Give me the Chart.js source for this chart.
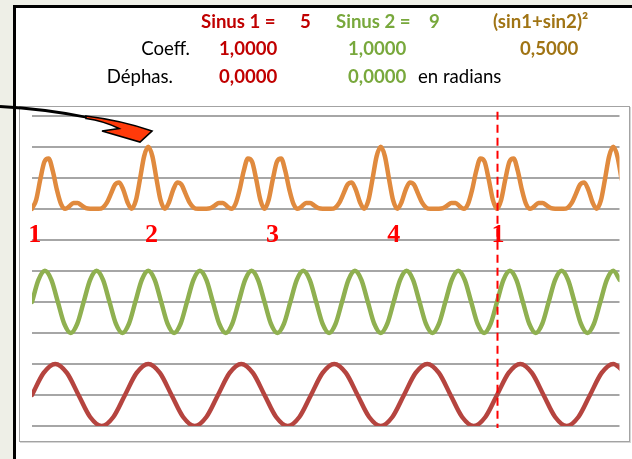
<!DOCTYPE html>
<html lang="fr">
<head>
<meta charset="utf-8">
<title>Sinus 1 + Sinus 2</title>
<script src="https://cdn.jsdelivr.net/npm/chart.js@4.4.1/dist/chart.umd.min.js"></script>
<style>
	html, body { margin: 0; padding: 0; }
	body { width: 632px; height: 459px; overflow: hidden; position: relative; background: #eeefe7; }
	#feuille { position: absolute; left: 13px; top: 5px; width: 640px; height: 470px; border-left: 3px solid #000; border-top: 3px solid #000; background: #fff; }
	#cadre { position: absolute; left: 19px; top: 106px; width: 609px; height: 334px; border: 1px solid #a3a3a3; box-shadow: 1px 1px 0 #d6d6d6; }
	#graphe, #dessus { position: absolute; left: 0; top: 0; }
</style>
</head>
<body>
<div id="feuille"></div>
<div id="cadre"></div>
<canvas id="graphe" width="632" height="459"></canvas>
<svg id="dessus" width="632" height="459">
	<g font-family="Lato, 'Open Sans', sans-serif" font-size="18.6">
		<text x="201" y="28" fill="#c00000" font-weight="bold">Sinus 1 =</text>
		<text x="300" y="28" fill="#c00000" font-weight="bold">5</text>
		<text x="336" y="28" fill="#78a83c" font-weight="bold">Sinus 2 =</text>
		<text x="429" y="28" fill="#78a83c" font-weight="bold">9</text>
		<text x="493" y="28" fill="#a07414" font-weight="bold">(sin1+sin2)²</text>

		<text x="190" y="54.5" fill="#000" text-anchor="end">Coeff.</text>
		<text x="219" y="54.5" fill="#c00000" font-weight="bold">1,0000</text>
		<text x="348" y="54.5" fill="#78a83c" font-weight="bold">1,0000</text>
		<text x="520" y="54.5" fill="#a07414" font-weight="bold">0,5000</text>

		<text x="173" y="82.5" fill="#000" text-anchor="end">Déphas.</text>
		<text x="219" y="82.5" fill="#c00000" font-weight="bold">0,0000</text>
		<text x="348" y="82.5" fill="#78a83c" font-weight="bold">0,0000</text>
		<text x="418" y="82.5" fill="#000">en radians</text>
	</g>
	<path d="M0,106.5 C30,108 60,112 88,117.5" stroke="#000" stroke-width="2.8" fill="none"/>
	<path d="M86,116 C110,119 132,124 152,131 L140,142 L102,131 L119,128.5 C108,123 97,120 86,118.5 Z" fill="#ff3a0a" stroke="#000" stroke-width="1.6"/>
</svg>
<script>
// Valeurs, un échantillon tous les 1/8 de période
var sinus1 = [
	0, 0.71, 1, 0.71, 0, -0.71, -1, -0.71,
	0, 0.71, 1, 0.71, 0, -0.71, -1, -0.71,
	0, 0.71, 1, 0.71, 0, -0.71, -1, -0.71,
	0, 0.71, 1, 0.71, 0, -0.71, -1, -0.71,
	0, 0.71, 1, 0.71, 0, -0.71, -1, -0.71,
	0, 0.71, 1, 0.71, 0, -0.71, -1, -0.71,
	0, 0.71, 1, 0.71
];
var sinus2 = [
	0, 0.71, 1, 0.71, 0, -0.71, -1, -0.71,
	0, 0.71, 1, 0.71, 0, -0.71, -1, -0.71,
	0, 0.71, 1, 0.71, 0, -0.71, -1, -0.71,
	0, 0.71, 1, 0.71, 0, -0.71, -1, -0.71,
	0, 0.71, 1, 0.71, 0, -0.71, -1, -0.71,
	0, 0.71, 1, 0.71, 0, -0.71, -1, -0.71,
	0, 0.71, 1, 0.71, 0, -0.71, -1, -0.71,
	0, 0.71, 1, 0.71, 0, -0.71, -1, -0.71,
	0, 0.71, 1, 0.71, 0, -0.71, -1, -0.71,
	0, 0.71, 1, 0.71, 0, -0.71, -1, -0.71,
	0, 0.71, 1, 0.71, 0, -0.71, -1, -0.71,
	0, 0.71, 1, 0.71
];
// (sin1+sin2)² x 0,5
var somme = [
	0, 0.29, 0.95, 1.52, 1.62, 1.22, 0.61, 0.15,
	0, 0.08, 0.19, 0.19, 0.10, 0.02, 0, 0,
	0, 0.03, 0.19, 0.48, 0.78, 0.85, 0.61, 0.21,
	0, 0.26, 0.95, 1.69, 2.00, 1.69, 0.95, 0.26,
	0, 0.21, 0.61, 0.85, 0.78, 0.48, 0.19, 0.03,
	0, 0, 0, 0.02, 0.10, 0.19, 0.19, 0.08,
	0, 0.15, 0.61, 1.22, 1.62, 1.52, 0.95, 0.29,
	0, 0.29, 0.95, 1.52, 1.62, 1.22, 0.61, 0.15,
	0, 0.08, 0.19, 0.19, 0.10, 0.02, 0, 0,
	0, 0.03, 0.19, 0.48, 0.78, 0.85, 0.61, 0.21,
	0, 0.26, 0.95, 1.69, 2.00, 1.69, 0.95, 0.26,
	0, 0.21, 0.61, 0.85, 0.78, 0.48, 0.19, 0.03,
	0, 0, 0, 0.02, 0.10, 0.19, 0.19, 0.08,
	0, 0.15, 0.61, 1.22, 1.62, 1.52, 0.95, 0.29,
	0, 0.29, 0.95, 1.52, 1.62, 1.22, 0.61, 0.15,
	0, 0.08, 0.19, 0.19, 0.10, 0.02, 0, 0,
	0, 0.03, 0.19, 0.48, 0.78, 0.85, 0.61, 0.21,
	0, 0.26, 0.95, 1.69, 2.00, 1.69, 0.95
];

// pas d'échantillonnage (en périodes du motif complet)
var pasSinus1 = 1 / 40;
var pasSinus2 = 1 / 72;
var pasSomme = 1 / 112;
var finAxe = 1.2634;

// repères de quart de période
var repereLabels = ['1', '2', '3', '4', '1'];
var repereT = [0.006, 0.257, 0.517, 0.778, 1.002];
var finMotif = 1;

// ligne de base de chaque courbe sur l'axe vertical
var baseSinus1 = 1;
var baseSinus2 = 4;
var baseSomme = 7;

function versPoints(valeurs, pas, base) {
	return valeurs.map(function (v, i) {
		return { x: i * pas, y: v + base };
	});
}

function serie(valeurs, pas, base, couleur) {
	return {
		data: versPoints(valeurs, pas, base),
		borderColor: couleur,
		borderWidth: 4.5,
		pointRadius: 0,
		cubicInterpolationMode: 'monotone',
		borderCapStyle: 'round',
		borderJoinStyle: 'round',
	};
}

var reperes = {
	id: 'reperes',
	afterDatasetsDraw: function (chart) {
		var ctx = chart.ctx;
		var xs = chart.scales.x;
		var ys = chart.scales.y;
		var area = chart.chartArea;
		ctx.save();
		// trait pointillé en fin de motif
		var xf = Math.round(xs.getPixelForValue(finMotif)) + 0.5;
		ctx.strokeStyle = '#ff0000';
		ctx.lineWidth = 2;
		ctx.setLineDash([8, 5]);
		ctx.beginPath();
		ctx.moveTo(xf, area.top - 4);
		ctx.lineTo(xf, area.bottom + 2);
		ctx.stroke();
		ctx.setLineDash([]);
		// numéros des quarts
		ctx.fillStyle = '#ff0000';
		ctx.font = 'bold 26px "Liberation Serif", "Times New Roman", serif';
		ctx.textAlign = 'center';
		ctx.textBaseline = 'alphabetic';
		var yl = ys.getPixelForValue(baseSomme - 1) + 2.5;
		repereLabels.forEach(function (txt, i) {
			ctx.fillText(txt, xs.getPixelForValue(repereT[i]), yl);
		});
		ctx.restore();
	},
};

new Chart(document.getElementById('graphe'), {
	type: 'line',
	data: {
		datasets: [
			serie(somme, pasSomme, baseSomme, '#e08a3e'),
			serie(sinus2, pasSinus2, baseSinus2, '#8fb050'),
			serie(sinus1, pasSinus1, baseSinus1, '#b5443f'),
		],
	},
	options: {
		responsive: false,
		animation: false,
		devicePixelRatio: 1,
		layout: {
			padding: { left: 32, right: 12.5, top: 115.7, bottom: 33 },
		},
		plugins: {
			legend: { display: false },
			tooltip: { enabled: false },
		},
		scales: {
			x: {
				type: 'linear',
				display: false,
				min: 0,
				max: finAxe,
			},
			y: {
				min: 0,
				max: 10,
				ticks: { display: false, stepSize: 1 },
				grid: { color: '#a6a6a6', lineWidth: 2, drawTicks: false },
				border: { display: false },
			},
		},
	},
	plugins: [reperes],
});
</script>
</body>
</html>
